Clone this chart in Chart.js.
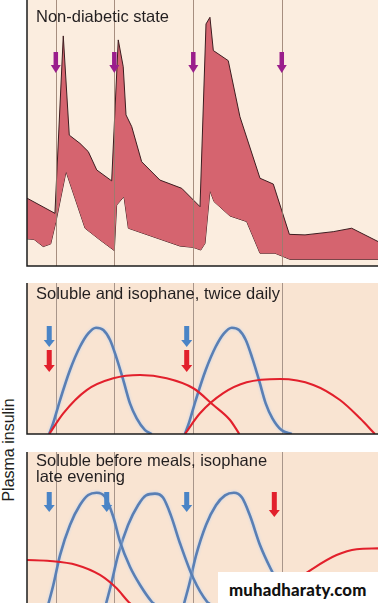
<!DOCTYPE html>
<html>
<head>
<meta charset="utf-8">
<script src="https://cdn.jsdelivr.net/npm/chart.js@4.4.1/dist/chart.umd.min.js"></script>
<style>
  html, body { margin: 0; padding: 0; background: #ffffff; }
  body { width: 378px; height: 603px; position: relative; overflow: hidden; font-family: "Liberation Sans", Arial, sans-serif; }
  canvas { position: absolute; }
  .t { position: absolute; color: #231f20; font-size: 16.5px; line-height: 16px; white-space: nowrap; }
  #ylab { position: absolute; left: -51.5px; top: 441px; width: 120px; height: 18px; line-height: 18px; text-align: center; font-size: 16px; color: #231f20; transform: rotate(-90deg); transform-origin: 50% 50%; white-space: nowrap; }
  #wmbox { position: absolute; left: 218px; top: 572px; width: 160px; height: 32px; background: #ffffff; }
  #wm { position: absolute; left: 229px; top: 581.5px; font-family: Lato, "DejaVu Sans", sans-serif; font-weight: 900; font-size: 16.8px; line-height: 1; letter-spacing: 0.2px; color: #111; white-space: nowrap; }
</style>
</head>
<body>
<canvas id="c1" width="358" height="270" style="left:20px;top:0px;width:358px;height:270px"></canvas>
<canvas id="c2" width="358" height="158" style="left:20px;top:280px;width:358px;height:158px"></canvas>
<canvas id="c3" width="358" height="160" style="left:20px;top:449px;width:358px;height:160px"></canvas>

<div class="t" style="left:36px;top:8px">Non-diabetic state</div>
<div class="t" style="left:36px;top:284.5px">Soluble and isophane, twice daily</div>
<div class="t" style="left:36px;top:452px">Soluble before meals, isophane<br>late evening</div>
<div id="ylab">Plasma insulin</div>
<div id="wmbox"></div>
<div id="wm">muhadharaty.com</div>

<script>
// ---- Data (x = hours across the day, y = relative plasma insulin) ----
const mealTimes = [1.97, 5.97, 11.37, 17.42];

// Panel 1: non-diabetic state, band between upper and lower insulin levels
const normalUpperX = [0, 1.91, 2.48, 2.89, 3.62, 4.19, 4.77, 5.79, 6.24, 6.58, 6.77, 7.16, 7.84, 9.09, 10.58, 11.83, 12.24, 12.51, 12.74, 13.76, 14.56, 15.93, 16.84, 17.94, 19.01, 20.94, 22.20, 24];
const normalUpperY = [25.5, 19.8, 86.5, 49.2, 46.1, 43.0, 36.1, 32.0, 85.0, 74.9, 56.8, 52.4, 39.2, 32.3, 29.2, 22.3, 91.0, 93.5, 81.0, 77.2, 56.1, 33.0, 30.8, 11.9, 11.7, 12.9, 14.2, 9.2];
const normalLowerX = [0, 0.48, 1.11, 1.62, 1.98, 2.67, 3.97, 4.99, 5.97, 6.13, 6.63, 6.93, 10.46, 11.37, 11.88, 12.17, 12.51, 12.79, 13.88, 15.02, 15.93, 16.96, 17.98, 24];
const normalLowerY = [10.2, 10.0, 7.3, 8.3, 16.7, 35.5, 14.2, 9.8, 5.8, 22.9, 26.1, 14.2, 7.5, 7.0, 6.0, 8.5, 28.3, 24.2, 18.8, 16.7, 4.8, 4.8, 2.5, 2.5];

// Panel 2: soluble (blue) and isophane (red), twice daily
const p2SolubleAX = [1.52, 1.80, 2.26, 2.94, 3.62, 4.19, 4.72, 5.22, 5.68, 6.13, 6.58, 7.04, 7.50, 8.07, 8.53];
const p2SolubleAY = [0, 7.5, 22.5, 42.4, 57.8, 66.7, 70.4, 68.9, 62.3, 50.1, 35.8, 20.3, 10.4, 2.6, 0];
const p2SolubleBX = [10.80, 11.08, 11.54, 12.22, 12.90, 13.47, 14.00, 14.50, 14.96, 15.41, 15.86, 16.32, 16.78, 17.40, 18.10];
const p2SolubleBY = [0, 7.5, 22.5, 42.4, 57.8, 66.7, 70.4, 68.9, 62.3, 50.1, 35.8, 20.3, 10.4, 2.6, 0];
const p2IsophaneAX = [1.52, 2.48, 4.08, 5.90, 7.73, 9.55, 11.37, 12.74, 13.88, 14.52];
const p2IsophaneAY = [0, 13.7, 29.1, 36.9, 39.1, 36.9, 30.3, 19.2, 9.3, 0];
const p2IsophaneBX = [10.80, 11.83, 13.42, 15.02, 17.30, 19.58, 21.40, 22.77, 23.79];
const p2IsophaneBY = [0, 13.7, 27.0, 34.2, 36.4, 32.5, 22.5, 10.4, 0];
const p2SolubleDoses = [1.52, 10.92];
const p2IsophaneDoses = [1.52, 10.92];

// Panel 3: soluble before meals (blue), isophane late evening (red)
const p3SolubleAX = [1.46, 1.80, 2.26, 2.94, 3.62, 4.19, 4.76, 5.33, 5.90, 6.36, 7.04, 7.73, 8.53, 8.70];
const p3SolubleAY = [0, 12.5, 32.2, 52.0, 65.1, 71.7, 73.2, 70.6, 57.4, 41.0, 24.5, 12.5, 1.5, 0];
const p3SolubleBX = [5.40, 5.74, 6.22, 6.91, 7.59, 8.14, 8.75, 9.30, 9.85, 10.46, 11.37, 12.31, 12.51];
const p3SolubleBY = [0, 12.5, 32.0, 52.0, 65.0, 71.5, 72.6, 70.0, 58.0, 40.0, 16.9, 1.5, 0];
const p3SolubleCX = [10.73, 11.08, 11.56, 12.24, 12.92, 13.54, 14.15, 14.70, 15.25, 15.93, 16.62, 17.53, 18.19];
const p3SolubleCY = [0, 12.5, 32.0, 52.0, 65.0, 71.5, 73.2, 70.0, 58.0, 38.8, 24.0, 8.1, 0];
const p3IsophaneAX = [0, 1.57, 3.38, 4.99, 6.13, 6.93, 7.11];
const p3IsophaneAY = [28.9, 28.3, 25.7, 19.1, 10.3, 1.5, 0];
const p3IsophaneBX = [16.70, 17.98, 19.58, 21.17, 22.54, 24];
const p3IsophaneBY = [0, 12.5, 23.5, 32.2, 36.0, 36.6];
const p3SolubleDoses = [1.52, 5.45, 10.92];
const p3IsophaneDoses = [16.91];

// ---- helpers ----
const pts = (xs, ys) => xs.map((x, i) => ({ x: x, y: ys[i] }));

function drawArrow(ctx, x, top, tip, color, shaft, head, headLen) {
  ctx.save();
  ctx.fillStyle = color;
  ctx.fillRect(x - shaft / 2, top, shaft, tip - headLen - top + 0.5);
  ctx.beginPath();
  ctx.moveTo(x - head / 2, tip - headLen);
  ctx.lineTo(x + head / 2, tip - headLen);
  ctx.lineTo(x, tip);
  ctx.closePath();
  ctx.fill();
  ctx.restore();
}

function drawGrid(chart, opts) {
  const { ctx, chartArea: a } = chart;
  const xs = chart.scales.x;
  ctx.save();
  ctx.strokeStyle = opts.gridColor;
  ctx.lineWidth = 1;
  (opts.grid || []).forEach(t => {
    const px = Math.round(xs.getPixelForValue(t)) + 0.5;
    ctx.beginPath(); ctx.moveTo(px, a.top); ctx.lineTo(px, a.bottom); ctx.stroke();
  });
  ctx.restore();
}

const panelPlugin = {
  id: 'panel',
  beforeDraw(chart, args, opts) {
    const { ctx, chartArea: a } = chart;
    ctx.save();
    ctx.fillStyle = opts.bg;
    ctx.fillRect(a.left, a.top, a.right - a.left, a.bottom - a.top);
    ctx.restore();
    if (!opts.gridOnTop) drawGrid(chart, opts);
  },
  beforeDatasetDraw(chart, args) {
    const ds = chart.data.datasets[args.index];
    if (ds.halo) {
      chart.ctx.save();
      chart.ctx.shadowColor = ds.halo;
      chart.ctx.shadowBlur = 3;
    }
  },
  afterDatasetDraw(chart, args) {
    const ds = chart.data.datasets[args.index];
    if (ds.halo) chart.ctx.restore();
  },
  afterDatasetsDraw(chart, args, opts) {
    const { ctx, chartArea: a } = chart;
    const xs = chart.scales.x;
    if (opts.gridOnTop) drawGrid(chart, opts);
    (opts.arrows || []).forEach(ar => {
      ar.times.forEach(t => drawArrow(ctx, xs.getPixelForValue(t), a.top + ar.top, a.top + ar.tip, ar.color, ar.shaft, ar.head, ar.headLen));
    });
    ctx.save();
    ctx.strokeStyle = '#1c1c1c';
    ctx.lineWidth = 1.5;
    ctx.beginPath();
    ctx.moveTo(a.left, a.top);
    ctx.lineTo(a.left, a.bottom);
    ctx.lineTo(a.right, a.bottom);
    ctx.stroke();
    ctx.restore();
  }
};

function baseOptions(padding, panelOpts) {
  return {
    responsive: false,
    animation: false,
    events: [],
    layout: { padding: padding },
    elements: { point: { radius: 0 } },
    scales: {
      x: { type: 'linear', min: 0, max: 24, display: false },
      y: { type: 'linear', min: 0, max: 100, display: false }
    },
    plugins: { legend: { display: false }, tooltip: { enabled: false }, panel: panelOpts }
  };
}

const BLUE = '#5a7fb4';
const BLUE_HALO = 'rgba(190,212,240,1)';
const RED = '#e2202c';

function curve(xs, ys, color, halo) {
  return {
    data: pts(xs, ys),
    borderColor: color,
    borderWidth: halo ? 2.6 : 2.1,
    fill: false,
    cubicInterpolationMode: 'monotone',
    halo: halo || null
  };
}

// ---- Panel 1 ----
new Chart(document.getElementById('c1'), {
  type: 'line',
  data: {
    datasets: [
      { data: pts(normalUpperX, normalUpperY), borderColor: '#3d1d20', borderWidth: 1, backgroundColor: '#d5646f', fill: '+1', tension: 0 },
      { data: pts(normalLowerX, normalLowerY), borderColor: '#3d1d20', borderWidth: 1, fill: false, tension: 0 }
    ]
  },
  options: baseOptions({ left: 7, right: 0, top: 0, bottom: 4 }, {
    bg: '#fbeddf', grid: mealTimes, gridColor: 'rgba(150,125,110,0.85)', gridOnTop: true,
    arrows: [{ times: mealTimes, top: 52, tip: 73, color: '#9a1e8c', shaft: 4.5, head: 10, headLen: 8 }]
  }),
  plugins: [panelPlugin]
});

// ---- Panel 2 ----
new Chart(document.getElementById('c2'), {
  type: 'line',
  data: {
    datasets: [
      curve(p2IsophaneAX, p2IsophaneAY, RED),
      curve(p2IsophaneBX, p2IsophaneBY, RED),
      curve(p2SolubleAX, p2SolubleAY, BLUE, BLUE_HALO),
      curve(p2SolubleBX, p2SolubleBY, BLUE, BLUE_HALO)
    ]
  },
  options: baseOptions({ left: 7, right: 0, top: 3, bottom: 4 }, {
    bg: '#f9e4d2', grid: mealTimes, gridColor: '#a8958a', gridOnTop: false,
    arrows: [
      { times: p2SolubleDoses, top: 43, tip: 64, color: '#4a84c6', shaft: 5, head: 11, headLen: 7 },
      { times: p2IsophaneDoses, top: 67, tip: 89, color: '#e2202c', shaft: 5, head: 11, headLen: 7 }
    ]
  }),
  plugins: [panelPlugin]
});

// ---- Panel 3 ----
new Chart(document.getElementById('c3'), {
  type: 'line',
  data: {
    datasets: [
      curve(p3IsophaneAX, p3IsophaneAY, RED),
      curve(p3IsophaneBX, p3IsophaneBY, RED),
      curve(p3SolubleAX, p3SolubleAY, BLUE, BLUE_HALO),
      curve(p3SolubleBX, p3SolubleBY, BLUE, BLUE_HALO),
      curve(p3SolubleCX, p3SolubleCY, BLUE, BLUE_HALO)
    ]
  },
  options: baseOptions({ left: 7, right: 0, top: 3, bottom: 5 }, {
    bg: '#f9e4d2', grid: mealTimes, gridColor: '#a8958a', gridOnTop: false,
    arrows: [
      { times: p3SolubleDoses, top: 40, tip: 60, color: '#4a84c6', shaft: 5, head: 11, headLen: 7 },
      { times: p3IsophaneDoses, top: 40, tip: 65, color: '#e2202c', shaft: 5, head: 11, headLen: 7 }
    ]
  }),
  plugins: [panelPlugin]
});
</script>
</body>
</html>
